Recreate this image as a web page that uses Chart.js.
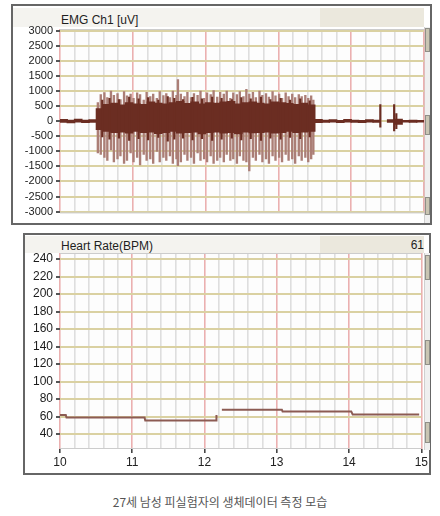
<!DOCTYPE html>
<html>
<head>
<meta charset="utf-8">
<script src="https://cdn.jsdelivr.net/npm/chart.js@4.4.1/dist/chart.umd.min.js"></script>
<style>
    body { margin: 0; width: 440px; height: 516px; position: relative; overflow: hidden; background: #fff; font-family: "Liberation Sans", Arial, sans-serif; }
    .abs { position: absolute; box-sizing: border-box; }
    .panel { border: 2px solid #666; background: #fff; }
    .strip { background: #f4f3ef; }
    .stripDark { background: #ebe8dd; }
    .title { font-size: 12px; line-height: 14px; color: #1e1e1e; white-space: nowrap; }
    .scroll { background: #efefef; border-left: 1px solid #cfcfcf; }
    .knob { background: #c9c5b3; border: 1px solid #8f8f88; }
    canvas { position: absolute; }
    #caption { left: 0; top: 493px; width: 440px; text-align: center; font-family: "Noto Sans CJK KR", sans-serif; font-size: 12px; color: #555; }
</style>
</head>
<body>
<!-- EMG panel -->
<div class="abs panel" style="left:11px;top:4px;width:421px;height:221px;"></div>
<div class="abs strip" style="left:13px;top:8px;width:411px;height:19px;"></div>
<div class="abs stripDark" style="left:320px;top:8px;width:104px;height:19px;"></div>
<div class="abs title" style="left:61px;top:13px;">EMG Ch1 [uV]</div>
<div class="abs scroll" style="left:424px;top:27px;width:6px;height:196px;"></div>
<div class="abs knob" style="left:425px;top:28px;width:5px;height:24px;"></div>
<div class="abs knob" style="left:425px;top:115px;width:5px;height:20px;"></div>
<div class="abs knob" style="left:425px;top:197px;width:5px;height:18px;"></div>
<canvas id="emgChart" width="414" height="218" style="left:12px;top:5px;"></canvas>

<!-- Heart rate panel -->
<div class="abs panel" style="left:23px;top:233px;width:408px;height:242px;"></div>
<div class="abs strip" style="left:25px;top:236px;width:399px;height:17px;"></div>
<div class="abs stripDark" style="left:320px;top:236px;width:104px;height:17px;"></div>
<div class="abs title" style="left:61px;top:239px;">Heart Rate(BPM)</div>
<div class="abs title" style="left:380px;top:238px;width:44px;text-align:right;">61</div>
<div class="abs scroll" style="left:424px;top:253px;width:6px;height:197px;"></div>
<div class="abs knob" style="left:425px;top:255px;width:5px;height:25px;"></div>
<div class="abs knob" style="left:425px;top:340px;width:5px;height:25px;"></div>
<div class="abs knob" style="left:425px;top:422px;width:5px;height:21px;"></div>
<canvas id="hrChart" width="406" height="238" style="left:24px;top:234px;"></canvas>

<div id="caption" class="abs">27세 남성 피실험자의 생체데이터 측정 모습</div>

<script>
// time axis (seconds)
const xGrid = [10, 10.2, 10.4, 10.6, 10.8, 11, 11.2, 11.4, 11.6, 11.8, 12, 12.2, 12.4, 12.6, 12.8,
               13, 13.2, 13.4, 13.6, 13.8, 14, 14.2, 14.4, 14.6, 14.8, 15];
const emgYTicks = [-3000, -2500, -2000, -1500, -1000, -500, 0, 500, 1000, 1500, 2000, 2500, 3000];
const hrYTicks = [40, 60, 80, 100, 120, 140, 160, 180, 200, 220, 240];

// EMG dense band (0.1 s bins), low / high in uV
const coreT = [10.05, 10.15, 10.25, 10.35, 10.45,
               10.55, 10.65, 10.75, 10.85, 10.95, 11.05, 11.15, 11.25, 11.35, 11.45,
               11.55, 11.65, 11.75, 11.85, 11.95, 12.05, 12.15, 12.25, 12.35, 12.45,
               12.55, 12.65, 12.75, 12.85, 12.95, 13.05, 13.15, 13.25, 13.35, 13.45,
               13.55, 13.65, 13.75, 13.85, 13.95, 14.05, 14.15, 14.25, 14.35,
               14.45, 14.55, 14.65, 14.75, 14.85, 14.95];
const coreHi = [60, 40, 70, 40, 50,
                420, 560, 600, 540, 620, 580, 560, 640, 600, 580,
                620, 660, 590, 640, 580, 620, 600, 640, 660, 580,
                620, 640, 600, 580, 640, 620, 590, 560, 600, 540,
                60, 40, 50, 30, 60, 40, 30, 50, 40,
                null, 50, 70, 30, 40, 30];
const coreLo = [-40, -60, -30, -50, -40,
                -280, -340, -380, -360, -400, -340, -380, -360, -410, -380,
                -340, -400, -380, -360, -420, -380, -360, -400, -380, -420,
                -360, -390, -380, -360, -400, -380, -340, -380, -360, -340,
                -50, -40, -30, -50, -30, -40, -50, -30, -40,
                null, -40, -110, -30, -40, -30];

// EMG individual spikes during the contraction burst
const spikeT = [10.52, 10.56, 10.61, 10.65, 10.70, 10.74, 10.79, 10.83, 10.88, 10.92,
                10.97, 11.01, 11.06, 11.10, 11.15, 11.19, 11.24, 11.28, 11.33, 11.37,
                11.42, 11.46, 11.51, 11.55, 11.60, 11.62, 11.66, 11.71, 11.75, 11.80,
                11.84, 11.89, 11.93, 11.98, 12.02, 12.07, 12.11, 12.16, 12.20, 12.25,
                12.29, 12.34, 12.38, 12.43, 12.47, 12.52, 12.56, 12.60, 12.65, 12.69,
                12.74, 12.78, 12.83, 12.87, 12.92, 12.96, 13.01, 13.05, 13.10, 13.14,
                13.19, 13.23, 13.28, 13.32, 13.37, 13.41, 13.45, 13.48];
const spikeHi = [620, 880, 950, 780, 1000, 860, 920, 720, 980, 840,
                 900, 760, 940, 880, 700, 960, 820, 900, 760, 980,
                 850, 920, 780, 1000, 860, 1380, 900, 820, 960, 780,
                 920, 860, 1000, 760, 940, 880, 1020, 800, 960, 900,
                 1000, 760, 940, 880, 980, 820, 1060, 900, 960, 780,
                 1000, 860, 920, 800, 980, 840, 900, 760, 940, 820,
                 900, 780, 880, 820, 860, 760, 840, 700];
const spikeLo = [-1050, -1100, -1200, -1300, -950, -1350, -1250, -1150, -1400, -1300,
                 -1050, -1350, -1200, -1450, -1100, -1300, -1250, -1400, -1000, -1350,
                 -1200, -1300, -1150, -1400, -1250, -1480, -1350, -1100, -1300, -1200,
                 -1400, -1050, -1300, -1250, -1350, -1150, -1400, -1300, -1200, -1350,
                 -1100, -1300, -1250, -1400, -1150, -1300, -1350, -1650, -1200, -1300,
                 -1100, -1350, -1250, -1400, -1150, -1300, -1200, -1350, -1100, -1300,
                 -1250, -1400, -1150, -1300, -1200, -1350, -1250, -1100];

// darker spikes poking out of the dense band
const darkT = [10.58, 10.68, 10.81, 10.95, 11.08, 11.21, 11.35, 11.48, 11.57, 11.69, 11.82, 11.95,
               12.09, 12.22, 12.36, 12.49, 12.62, 12.76, 12.89, 13.03, 13.16, 13.30, 13.43];
const darkHi = [700, 760, 720, 800, 740, 780, 700, 820, 760, 720, 790, 740,
                800, 760, 720, 780, 740, 800, 720, 760, 700, 740, 680];
const darkLo = [-520, -600, -560, -640, -580, -620, -540, -660, -600, -560, -620, -580,
                -640, -600, -560, -620, -580, -640, -560, -600, -540, -580, -520];

// small artefacts after the burst
const blipT = [14.40, 14.59, 14.62];
const blipHi = [550, 550, 250];
const blipLo = [-200, -320, -250];

// heart rate (BPM), null = gap
const hrTime = [10.00, 10.08, 10.09, 11.17, 11.18, 12.16, 12.165, 12.20, 12.24, 13.07, 13.08, 14.03, 14.05, 14.97];
const hrValue = [62, 62, 59, 59, 55.5, 55.5, 62, null, 68, 68, 66, 66, 62.5, 62.5];

const isWhole = v => Math.abs(v - Math.round(v)) < 1e-6;

// plot background + frame
const plotFrame = {
    id: 'plotFrame',
    beforeDraw(chart) {
        const a = chart.chartArea, c = chart.ctx;
        c.save();
        c.fillStyle = '#fdfdfd';
        c.fillRect(a.left, a.top, a.right - a.left, a.bottom - a.top);
        c.restore();
    },
    beforeDatasetsDraw(chart) {
        const a = chart.chartArea, c = chart.ctx;
        c.save();
        c.strokeStyle = '#cccccc';
        c.lineWidth = 1;
        c.beginPath();
        c.moveTo(a.left, a.top + 0.5); c.lineTo(a.right, a.top + 0.5);
        c.moveTo(a.left, a.bottom - 0.5); c.lineTo(a.right, a.bottom - 0.5);
        c.stroke();
        c.restore();
    }
};

function xScale(showLabels, height) {
    return {
        type: 'linear',
        min: 10,
        max: 15,
        offset: false,
        afterBuildTicks: (scale) => { scale.ticks = xGrid.map(v => ({ value: v })); },
        afterFit: (scale) => { scale.height = height; },
        border: { display: false },
        grid: {
            offset: false,
            color: (ctx) => isWhole(ctx.tick.value) ? '#ebb0b0' : '#dedede',
            lineWidth: 1.6,
            drawTicks: showLabels,
            tickLength: 4,
            tickColor: (ctx) => isWhole(ctx.tick.value) ? '#444' : 'rgba(0,0,0,0)'
        },
        ticks: {
            display: showLabels,
            autoSkip: false,
            maxRotation: 0,
            padding: 2,
            color: '#222',
            font: { family: '"Liberation Sans", Arial, sans-serif', size: 12 },
            callback: (v) => isWhole(v) ? String(Math.round(v)) : ''
        }
    };
}

function yScale(min, max, tickVals, width, fontSize) {
    return {
        type: 'linear',
        min: min,
        max: max,
        afterBuildTicks: (scale) => { scale.ticks = tickVals.map(v => ({ value: v })); },
        afterFit: (scale) => { scale.width = width; },
        border: { display: false },
        grid: {
            color: '#dad1a2',
            lineWidth: 2,
            drawTicks: true,
            tickLength: 4,
            tickColor: '#555'
        },
        ticks: {
            autoSkip: false,
            padding: 3,
            color: '#1c1c1c',
            font: { family: '"Liberation Sans", Arial, sans-serif', size: fontSize },
            callback: (v) => String(v)
        }
    };
}

const barPairs = (ts, lo, hi) => ts.map((t, i) => ({ x: t, y: hi[i] === null ? null : [lo[i], hi[i]] }));

new Chart(document.getElementById('emgChart'), {
    type: 'bar',
    data: {
        datasets: [
            { data: barPairs(darkT, darkLo, darkHi), backgroundColor: '#6b2d22', barThickness: 1.5, grouped: false, borderWidth: 0 },
            { data: barPairs(coreT, coreLo, coreHi), backgroundColor: '#6b2d22', barThickness: 8, grouped: false, borderWidth: 0 },
            { data: barPairs(blipT, blipLo, blipHi), backgroundColor: '#6b2d22', barThickness: 1.5, grouped: false, borderWidth: 0 },
            { data: barPairs(spikeT, spikeLo, spikeHi), backgroundColor: '#ab7e76', barThickness: 1.7, grouped: false, borderWidth: 0 }
        ]
    },
    options: {
        responsive: false,
        animation: false,
        devicePixelRatio: 1,
        layout: { padding: { top: 24, right: 2, bottom: 1, left: 0 } },
        plugins: { legend: { display: false }, tooltip: { enabled: false } },
        scales: {
            x: xScale(false, 0),
            y: yScale(-3060, 3060, emgYTicks, 48, 11)
        }
    },
    plugins: [plotFrame]
});

new Chart(document.getElementById('hrChart'), {
    type: 'line',
    data: {
        datasets: [{
            data: hrTime.map((t, i) => ({ x: t, y: hrValue[i] })),
            borderColor: '#8c5b53',
            borderWidth: 2,
            pointRadius: 0,
            tension: 0,
            spanGaps: false
        }]
    },
    options: {
        responsive: false,
        animation: false,
        devicePixelRatio: 1,
        layout: { padding: { top: 19, right: 7, bottom: 0, left: 0 } },
        plugins: { legend: { display: false }, tooltip: { enabled: false } },
        scales: {
            x: xScale(true, 23),
            y: yScale(23, 247, hrYTicks, 36, 12)
        }
    },
    plugins: [plotFrame]
});
</script>
</body>
</html>
